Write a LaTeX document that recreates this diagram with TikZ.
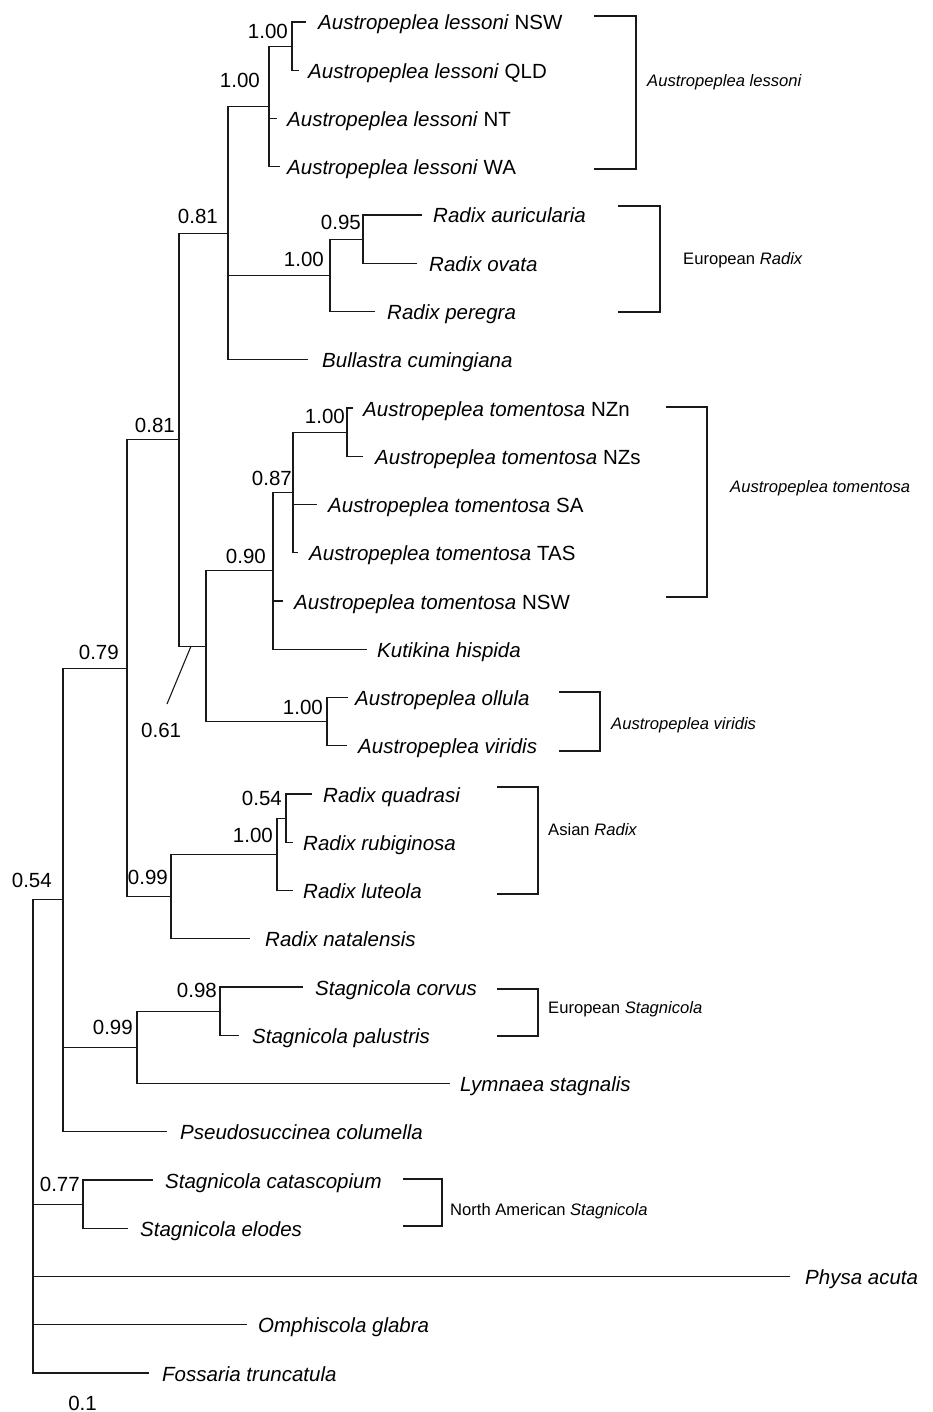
\documentclass[tikz,border=0pt]{standalone}
\usepackage{fontspec}
\setmainfont{Liberation Sans}
\begin{document}
\begin{tikzpicture}[x=1pt,y=-1pt,
  br/.style={line width=1.1pt, draw=black!90},
  leaf/.style={anchor=base west, inner sep=0pt, font=\fontsize{20.5}{24}\selectfont},
  support/.style={anchor=base east, inner sep=0pt, font=\fontsize{20.5}{24}\selectfont},
  grp/.style={anchor=base west, inner sep=0pt, font=\fontsize{16.6}{20}\selectfont},
]
\useasboundingbox[fill=white] (0,0) rectangle (933,1412);

% ---------- internal nodes ----------
\coordinate (root)  at (33,1136.5);
\coordinate (n63)   at (63,899.9);
\coordinate (n79)   at (127,668.1);
\coordinate (n81)   at (179,439.7);
\coordinate (nEu)   at (228,233.1);
\coordinate (nLs)   at (269,106.4);
\coordinate (nLsA)  at (292,46.1);
\coordinate (nRx)   at (330,275.3);
\coordinate (nRo)   at (363,239.1);
\coordinate (n61)   at (206,646.2);
\coordinate (n90)   at (273,570.8);
\coordinate (n87)   at (293,492.4);
\coordinate (nNZ)   at (347,432.1);
\coordinate (nVi)   at (327,721.6);
\coordinate (n99R)  at (171,896.5);
\coordinate (nAs)   at (277,854.3);
\coordinate (nAs54) at (286,818.1);
\coordinate (nSt99) at (137,1047.3);
\coordinate (nSt98) at (220,1011.1);
\coordinate (nNA)   at (83,1204.1);

% ---------- internal branches ----------
\draw[br] (root) |- (n63);
\draw[br] (n63) |- (n79);
\draw[br] (n79) |- (n81);
\draw[br] (n81) |- (nEu);
\draw[br] (nEu) |- (nLs);
\draw[br] (nLs) |- (nLsA);
\draw[br] (nEu) |- (nRx);
\draw[br] (nRx) |- (nRo);
\draw[br] (n81) |- (n61);
\draw[br] (n61) |- (n90);
\draw[br] (n90) |- (n87);
\draw[br] (n87) |- (nNZ);
\draw[br] (n61) |- (nVi);
\draw[br] (n79) |- (n99R);
\draw[br] (n99R) |- (nAs);
\draw[br] (nAs) |- (nAs54);
\draw[br] (n63) |- (nSt99);
\draw[br] (nSt99) |- (nSt98);
\draw[br] (root) |- (nNA);

% ---------- leaves ----------
\coordinate (e1) at (306,22);     \node[leaf] (t1) at (318,30) {\textit{Austropeplea lessoni} NSW};
\coordinate (e2) at (299,70.25);  \node[leaf] (t2) at (308,78.25) {\textit{Austropeplea lessoni} QLD};
\coordinate (e3) at (277,118.5);  \node[leaf] (t3) at (287,126.5) {\textit{Austropeplea lessoni} NT};
\coordinate (e4) at (280,166.75); \node[leaf] (t4) at (287,174.75) {\textit{Austropeplea lessoni} WA};
\coordinate (e5) at (422,215);    \node[leaf] (t5) at (433,223) {\textit{Radix auricularia}};
\coordinate (e6) at (417,263.25); \node[leaf] (t6) at (429,271.25) {\textit{Radix ovata}};
\coordinate (e7) at (375,311.5);  \node[leaf] (t7) at (387,319.5) {\textit{Radix peregra}};
\coordinate (e8) at (308,359.75); \node[leaf] (t8) at (322,367.75) {\textit{Bullastra cumingiana}};
\coordinate (e9) at (353,408);    \node[leaf] (t9) at (363,416) {\textit{Austropeplea tomentosa} NZn};
\coordinate (e10) at (363,456.25); \node[leaf] (t10) at (375,464.25) {\textit{Austropeplea tomentosa} NZs};
\coordinate (e11) at (317,504.5);  \node[leaf] (t11) at (328,512.5) {\textit{Austropeplea tomentosa} SA};
\coordinate (e12) at (298,552.75); \node[leaf] (t12) at (309,560.75) {\textit{Austropeplea tomentosa} TAS};
\coordinate (e13) at (283,601);    \node[leaf] (t13) at (294,609) {\textit{Austropeplea tomentosa} NSW};
\coordinate (e14) at (367,649.25); \node[leaf] (t14) at (377,657.25) {\textit{Kutikina hispida}};
\coordinate (e15) at (348,697.5);  \node[leaf] (t15) at (355,705.5) {\textit{Austropeplea ollula}};
\coordinate (e16) at (347,745.75); \node[leaf] (t16) at (358,753.75) {\textit{Austropeplea viridis}};
\coordinate (e17) at (312,794);    \node[leaf] (t17) at (323,802) {\textit{Radix quadrasi}};
\coordinate (e18) at (293,842.25); \node[leaf] (t18) at (303,850.25) {\textit{Radix rubiginosa}};
\coordinate (e19) at (293,890.5);  \node[leaf] (t19) at (303,898.5) {\textit{Radix luteola}};
\coordinate (e20) at (250,938.75); \node[leaf] (t20) at (265,946.75) {\textit{Radix natalensis}};
\coordinate (e21) at (303,987);    \node[leaf] (t21) at (315,995) {\textit{Stagnicola corvus}};
\coordinate (e22) at (239,1035.25); \node[leaf] (t22) at (252,1043.25) {\textit{Stagnicola palustris}};
\coordinate (e23) at (450,1083.5); \node[leaf] (t23) at (460,1091.5) {\textit{Lymnaea stagnalis}};
\coordinate (e24) at (167,1131.75); \node[leaf] (t24) at (180,1139.75) {\textit{Pseudosuccinea columella}};
\coordinate (e25) at (153,1180);   \node[leaf] (t25) at (165,1188) {\textit{Stagnicola catascopium}};
\coordinate (e26) at (128,1228.25); \node[leaf] (t26) at (140,1236.25) {\textit{Stagnicola elodes}};
\coordinate (e27) at (790,1276.5); \node[leaf] (t27) at (805,1284.5) {\textit{Physa acuta}};
\coordinate (e28) at (247,1324.75); \node[leaf] (t28) at (258,1332.75) {\textit{Omphiscola glabra}};
\coordinate (e29) at (149,1373);   \node[leaf] (t29) at (162,1381) {\textit{Fossaria truncatula}};

\draw[br] (nLsA) |- (e1);
\draw[br] (nLsA) |- (e2);
\draw[br] (nLs) |- (e3);
\draw[br] (nLs) |- (e4);
\draw[br] (nRo) |- (e5);
\draw[br] (nRo) |- (e6);
\draw[br] (nRx) |- (e7);
\draw[br] (nEu) |- (e8);
\draw[br] (nNZ) |- (e9);
\draw[br] (nNZ) |- (e10);
\draw[br] (n87) |- (e11);
\draw[br] (n87) |- (e12);
\draw[br] (n90) |- (e13);
\draw[br] (n90) |- (e14);
\draw[br] (nVi) |- (e15);
\draw[br] (nVi) |- (e16);
\draw[br] (nAs54) |- (e17);
\draw[br] (nAs54) |- (e18);
\draw[br] (nAs) |- (e19);
\draw[br] (n99R) |- (e20);
\draw[br] (nSt98) |- (e21);
\draw[br] (nSt98) |- (e22);
\draw[br] (nSt99) |- (e23);
\draw[br] (n63) |- (e24);
\draw[br] (nNA) |- (e25);
\draw[br] (nNA) |- (e26);
\draw[br] (root) |- (e27);
\draw[br] (root) |- (e28);
\draw[br] (root) |- (e29);

% ---------- support values ----------
\node[support] (s1)  at (288,38.5) {1.00};
\node[support] (s2)  at (260,87.5) {1.00};
\node[support] (s3)  at (218,224) {0.81};
\node[support] (s4)  at (361,230) {0.95};
\node[support] (s5)  at (324,267) {1.00};
\node[support] (s6)  at (175,432) {0.81};
\node[support] (s7)  at (345,423) {1.00};
\node[support] (s8)  at (292,485) {0.87};
\node[support] (s9)  at (266,563) {0.90};
\node[support] (s11) at (323,714) {1.00};
\node[support] (s12) at (119,659) {0.79};
\node[support] (s13) at (282,805) {0.54};
\node[support] (s14) at (273,842) {1.00};
\node[support] (s15) at (168,884) {0.99};
\node[support] (s16) at (52,887) {0.54};
\node[support] (s17) at (217,997) {0.98};
\node[support] (s18) at (133,1034) {0.99};
\node[support] (s19) at (80,1191) {0.77};
\node[support] (s20) at (97,1410) {0.1};
\node[support, anchor=base west] (s10) at (141,737) {0.61};
\coordinate (q61) at (167,704);
\coordinate (p61) at (191,646.2);
\draw[br] (q61) -- (p61);

% ---------- group brackets ----------
\coordinate (gLsT) at (594,16);  \coordinate (gLsX) at (636,90);  \coordinate (gLsB) at (594,169);
\draw[br] (gLsT) -| (gLsX) |- (gLsB);
\node[grp] (gLs) at (647,87) {\textit{Austropeplea lessoni}};

\coordinate (gErT) at (618,206); \coordinate (gErX) at (660,260); \coordinate (gErB) at (618,312);
\draw[br] (gErT) -| (gErX) |- (gErB);
\node[grp] (gEr) at (683,265) {European \textit{Radix}};

\coordinate (gToT) at (666,407); \coordinate (gToX) at (707,500); \coordinate (gToB) at (666,597);
\draw[br] (gToT) -| (gToX) |- (gToB);
\node[grp] (gTo) at (730,492) {\textit{Austropeplea tomentosa}};

\coordinate (gViT) at (559,692); \coordinate (gViX) at (600,720); \coordinate (gViB) at (559,751);
\draw[br] (gViT) -| (gViX) |- (gViB);
\node[grp] (gVi) at (611,729) {\textit{Austropeplea viridis}};

\coordinate (gArT) at (497,787); \coordinate (gArX) at (538,840); \coordinate (gArB) at (497,894);
\draw[br] (gArT) -| (gArX) |- (gArB);
\node[grp] (gAr) at (548,835) {Asian \textit{Radix}};

\coordinate (gEsT) at (497,989); \coordinate (gEsX) at (538,1010); \coordinate (gEsB) at (497,1036);
\draw[br] (gEsT) -| (gEsX) |- (gEsB);
\node[grp] (gEs) at (548,1013) {European \textit{Stagnicola}};

\coordinate (gNaT) at (403,1179); \coordinate (gNaX) at (442,1200); \coordinate (gNaB) at (403,1226);
\draw[br] (gNaT) -| (gNaX) |- (gNaB);
\node[grp] (gNa) at (450,1215) {North American \textit{Stagnicola}};
\end{tikzpicture}
\end{document}
